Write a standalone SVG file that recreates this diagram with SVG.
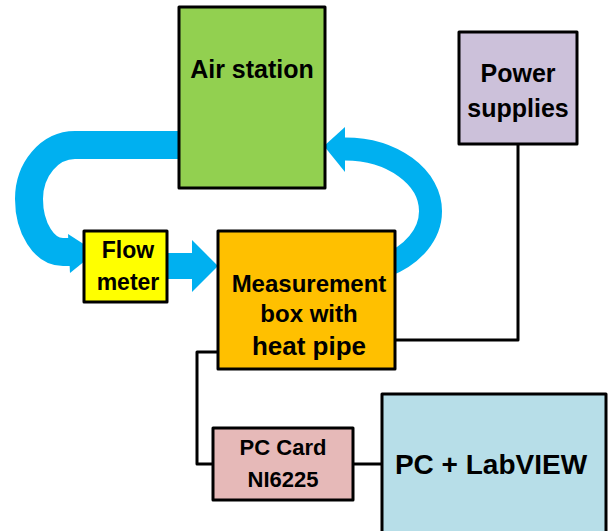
<svg xmlns="http://www.w3.org/2000/svg" width="609" height="531" viewBox="0 0 609 531">
<style>
.box{stroke:#000;stroke-width:3;stroke-linejoin:round}
.lbl{font-family:"Liberation Sans",Arial,sans-serif;font-weight:bold;fill:#000;text-anchor:middle}
.flow{fill:none;stroke:#00B0F0}
.head{fill:#00B0F0}
.wire{fill:none;stroke:#000;stroke-width:3;stroke-linejoin:round}
</style>
<rect width="609" height="531" fill="#fff"/>
<g id="connectors">
  <path class="flow" stroke-width="28" d="M182,145 H75 A46 54 0 0 0 29,199 A34 53 0 0 0 63,252 H70"/>
  <polygon class="head" points="68,234 70,273 96,252"/>
  <polygon class="head" points="160,253 192,253 192,240 218,266 192,292 192,279 160,279"/>
  <path class="flow" stroke-width="23" d="M385,266 A85.5 62 0 0 0 430.5,211 A85.5 62 0 0 0 345,149 H343"/>
  <polygon class="head" points="345,127 345,172 324,146"/>
  <path class="wire" d="M518,144 V340 H395"/>
  <path class="wire" d="M218,352 H197 V464 H213"/>
  <path class="wire" d="M353,464 H382"/>
</g>
<g id="air-station">
  <rect class="box" x="179" y="7" width="146" height="181" fill="#92D050"/>
  <text class="lbl" x="252" y="78" font-size="25">Air station</text>
</g>
<g id="flow-meter">
  <rect class="box" x="84" y="231" width="83" height="71" fill="#FFFF00"/>
  <text class="lbl" x="128" y="258" font-size="23">Flow</text>
  <text class="lbl" x="128" y="290" font-size="23">meter</text>
</g>
<g id="measurement-box">
  <rect class="box" x="218" y="231" width="177" height="138" fill="#FFC000"/>
  <text class="lbl" x="309" y="292" font-size="24">Measurement</text>
  <text class="lbl" x="309" y="322" font-size="24">box with</text>
  <text class="lbl" x="309" y="355" font-size="26">heat pipe</text>
</g>
<g id="power-supplies">
  <rect class="box" x="459" y="32" width="118" height="112" fill="#CCC1DA"/>
  <text class="lbl" x="518" y="82" font-size="25">Power</text>
  <text class="lbl" x="518" y="117" font-size="25">supplies</text>
</g>
<g id="pc-card">
  <rect class="box" x="213" y="428" width="140" height="72" fill="#E6B9B8"/>
  <text class="lbl" x="283" y="455" font-size="22">PC Card</text>
  <text class="lbl" x="283" y="487" font-size="22">NI6225</text>
</g>
<g id="pc-labview">
  <rect class="box" x="382" y="394" width="224" height="150" fill="#B7DEE8"/>
  <text class="lbl" x="491" y="474" font-size="28">PC + LabVIEW</text>
</g>
</svg>
